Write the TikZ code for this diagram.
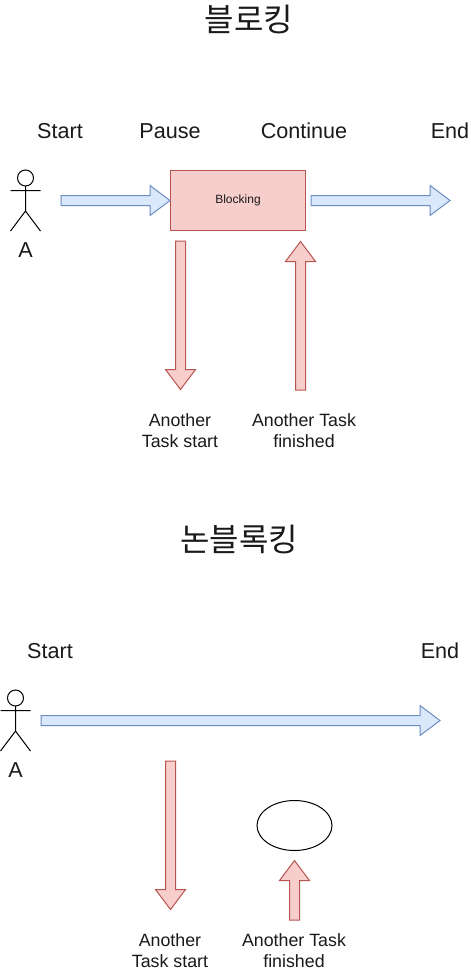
\documentclass[tikz,border=0pt]{standalone}
\usepackage{fontspec}
\setmainfont{Liberation Sans}
\newfontfamily\krfont{Noto Sans CJK KR}
\definecolor{bluefill}{HTML}{DAE8FC}
\definecolor{bluedraw}{HTML}{6C8EBF}
\definecolor{redfill}{HTML}{F8CECC}
\definecolor{reddraw}{HTML}{B85450}
\definecolor{inktext}{HTML}{1A1A1A}
\tikzset{
  bluearrow/.style={draw=bluedraw,fill=bluefill,line width=1pt},
  redarrow/.style={draw=reddraw,fill=redfill,line width=1pt},
  actorline/.style={draw=black,line width=1pt},
  biglabel/.style={font=\fontsize{21.6}{24}\selectfont,inner sep=0pt,text=inktext,anchor=base},
  smalllabel/.style={font=\fontsize{17.8}{21}\selectfont,inner sep=0pt,align=center,text=inktext},
  titlelabel/.style={font=\krfont\fontsize{32}{36}\selectfont,inner sep=0pt,text=inktext}
}
% style, tail coordinate name, angle, length
\newcommand{\blockarrow}[4]{%
  \draw[#1,shift={(#2)},rotate=#3] (0,-5) -- ({#4-20},-5) -- ({#4-20},-15) -- (#4,0) -- ({#4-20},15) -- ({#4-20},5) -- (0,5) -- cycle;}
\newcommand{\actorfig}[1]{%
  \begin{scope}[shift={(#1)}]
    \draw[actorline] (0,0) circle (8);
    \draw[actorline] (0,8) -- (0,33) (-15,12.5) -- (15,12.5) (-15,53) -- (0,33) -- (15,53);
  \end{scope}}
\begin{document}
\begin{tikzpicture}[x=1pt,y=-1pt]
\useasboundingbox (0,0) rectangle (471,972);
\fill[white] (0,0) rectangle (471,972);
% upper part
\node[titlelabel] (title1) at (249,19) {블로킹};
\node[biglabel] (start1) at (60,138) {Start};
\node[biglabel] (pause) at (170,138) {Pause};
\node[biglabel] (cont) at (304,138) {Continue};
\node[biglabel] (end1) at (450,138) {End};
\actorfig{25.5,178}
\node[biglabel] (a1) at (25.5,257.5) {A};
\node[draw=reddraw,fill=redfill,line width=1pt,minimum width=135pt,minimum height=60pt,inner sep=0pt,font=\fontsize{12}{14}\selectfont,text=inktext] (block) at (238,200.5) {Blocking};
\coordinate (t1) at (61,200.5);
\coordinate (t2) at (311,200.5);
\coordinate (t3) at (180.5,241);
\coordinate (t4) at (300.5,390);
\blockarrow{bluearrow}{t1}{0}{109}
\blockarrow{bluearrow}{t2}{0}{139}
\blockarrow{redarrow}{t3}{-90}{148.5}
\blockarrow{redarrow}{t4}{90}{148.5}
\node[smalllabel] (s1) at (180,431) {Another\\Task start};
\node[smalllabel] (f1) at (304,431) {Another Task\\finished};
% lower part
\node[titlelabel] (title2) at (239,539) {논블록킹};
\node[biglabel] (start2) at (50,658) {Start};
\node[biglabel] (end2) at (440,658) {End};
\actorfig{15.5,698}
\node[biglabel] (a2) at (15.5,777.5) {A};
\coordinate (t5) at (41,720.5);
\coordinate (t6) at (170.5,761);
\coordinate (t7) at (294.5,920);
\blockarrow{bluearrow}{t5}{0}{399}
\blockarrow{redarrow}{t6}{-90}{148.5}
\blockarrow{redarrow}{t7}{90}{59.5}
\draw[black,line width=1pt] (294.5,825.5) ellipse [x radius=37.5,y radius=25];
\node[smalllabel] (s2) at (170,951) {Another\\Task start};
\node[smalllabel] (f2) at (294,951) {Another Task\\finished};
\end{tikzpicture}
\end{document}
